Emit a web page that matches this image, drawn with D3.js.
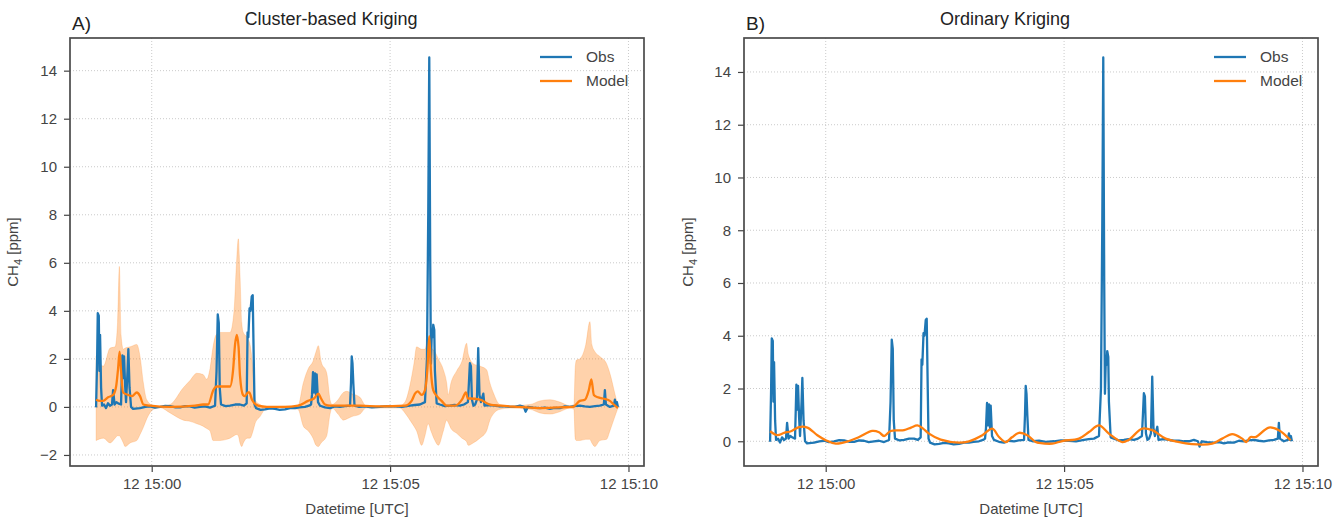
<!DOCTYPE html>
<html>
<head>
<meta charset="utf-8">
<script src="https://cdn.jsdelivr.net/npm/d3@7"></script>
<style>
    body { margin: 0; background: #fff; }
    svg text { font-family: "Liberation Sans", Arial, sans-serif; }
</style>
</head>
<body>
<div id="chart"></div>
<script>

// ---- data (seconds after 12 14:58:50 UTC, CH4 in ppm) ----

const obsSec = [0, 1.3, 2.1, 3.4, 4.2, 5.0, 6.3, 7.5, 10, 12.5, 15, 17.5, 20, 21.4, 23.3, 25.5, 27.7, 31.4, 33.1, 34.3, 35.2, 36.5, 37.7, 39.6, 40.6, 42.1, 44,
    46.5, 55.3, 62, 67.9, 74, 80.5, 87, 93.1, 100, 105.7, 112, 118.2, 124, 130.8, 137, 143.4, 149.7, 151.6, 153.1, 154.4, 155.6, 157.2, 163, 168.6, 175, 181.1, 186, 189.5,
    190.6, 191.6, 193.1, 194.3, 195.9, 197.1, 198.4, 199.4, 201.3, 207, 212.6, 219, 225.2, 231, 237.8, 244, 250.3, 256, 262.9, 268, 270.5, 271.7, 273, 274.2, 275.5, 276.8,
    277.6, 279.3, 281.8, 288, 294.4, 300, 307, 313, 319.6, 320.8, 321.7, 322.7, 323.7, 325.2, 331, 338.4, 347, 357.3, 366, 376.1, 385, 395, 401, 407.6, 413.9, 416.4,
    418, 419.3, 420.5, 421.4, 422.4, 423.3, 424.3, 425.6, 426.4, 428.6, 432.7, 439, 445.3, 451, 457.9, 463, 467.9, 469.2, 470.4, 471.7, 473, 474.9, 477, 479.3, 480.9,
    482.5, 484.3, 487.3, 488.8, 495, 502, 508, 514.5, 521, 527.1, 533.4, 538.4, 540.5, 543.4, 550, 558.5, 565, 571.1, 577, 583.7, 590, 596.2, 602, 608.8, 615, 621.4,
    628, 634, 639, 640.3, 641.6, 646.6, 651.6, 652.9, 654.2, 655.4, 656.7];
const obsVal = [-0.02, 2.0, 3.9, 3.8, 1.5, 3.0, 0.8, 0.05, 0.1, -0.05, 0.15, 0.05, 0.1, 0.7, 0.1, 0.2, 0.15, 0.1, 2.15, 1.2, 2.1, 0.9, 0.2, 1.5, 2.4, 0.8, 0.0,
    -0.08, -0.05, 0.0, 0.02, -0.03, 0.0, 0.04, 0.03, -0.02, -0.02, 0.03, 0.02, -0.03, 0.0, 0.02, -0.03, 0.05, 1.5, 3.85, 3.5, 0.8, 0.1, 0.03, 0.05, 0.1, 0.1, 0.05, 0.15,
    3.1, 2.9, 4.1, 4.0, 4.6, 4.65, 2.0, 0.1, -0.05, -0.12, -0.1, -0.06, -0.08, -0.12, -0.1, -0.05, -0.05, -0.02, 0.0, 0.05, 0.1, 0.5, 1.45, 0.6, 1.4, 0.5,
    1.35, 0.2, 0.05, -0.02, -0.05, 0.02, 0.0, 0.03, 0.05, 1.0, 2.1, 1.8, 1.0, 0.05, 0.0, 0.02, -0.02, 0.0, 0.03, 0.02, 0.0, 0.05, 0.08, 0.1, 0.2, 2.0,
    8.0, 14.55, 6.0, 1.8, 3.0, 2.9, 3.42, 3.2, 1.5, 0.15, 0.1, 0.03, 0.05, 0.08, 0.05, 0.1, 0.2, 1.0, 1.82, 1.7, 0.3, 0.05, 0.1, 0.3, 2.45,
    0.5, 0.2, 0.55, 0.05, 0.08, 0.05, 0.02, 0.02, 0.0, 0.0, 0.05, 0.0, -0.2, 0.0, -0.03, -0.05, -0.03, -0.08, -0.04, -0.05, 0.02, 0.0, 0.03, 0.05, 0.02, 0.0,
    0.03, 0.05, 0.1, 0.7, 0.1, 0.0, 0.05, 0.3, 0.05, 0.2, 0.0];

// cluster-based kriging model
const ckSec = [0, 5, 8.8, 15.1, 21.4, 25.2, 27.7, 29.6, 31.4, 34, 40.3, 45.3, 51.2, 55.3, 59.5, 67.9, 93.1, 124.5, 134.6, 140.9, 147.6, 151.9, 162.3, 168.6,
    172.3, 174.9, 177, 179.3, 181.1, 184.9, 187.4, 191.2, 192.8, 196.2, 203.8, 215.1, 237.8, 254.1, 266.7, 274.2, 279.7, 283.1, 288.1, 294.4, 313.3, 332.1,
    357.3, 388.7, 397.1, 401.3, 404.7, 409.7, 413.9, 417, 419.3, 421.4, 424.3, 428.9, 434.8, 441.1, 451.5, 460.4, 465.4, 467.9, 470.4, 483, 495.6, 508.2,
    533.4, 558.5, 583.7, 600, 608.8, 615.1, 620.1, 623.3, 626.4, 631.5, 637.7, 646.6, 651.6, 656.7];
const ckVal = [0.3, 0.25, 0.25, 0.4, 0.5, 0.85, 1.6, 2.3, 1.5, 0.6, 0.5, 0.45, 0.6, 0.45, 0.1, 0.05, 0.0, 0.05, 0.1, 0.1, 0.7, 0.85, 0.85, 0.85,
    1.5, 2.6, 3.0, 2.5, 1.3, 0.5, 0.45, 0.6, 0.6, 0.3, 0.05, 0.0, 0.0, 0.05, 0.25, 0.35, 0.55, 0.35, 0.1, 0.05, 0.05, 0.05,
    0.02, 0.05, 0.25, 0.55, 0.65, 0.5, 0.7, 1.6, 2.95, 1.5, 0.7, 0.45, 0.25, 0.05, 0.05, 0.3, 0.6, 0.35, 0.35, 0.3, 0.1, 0.05,
    0.0, -0.05, -0.02, 0.0, 0.25, 0.3, 0.7, 1.15, 0.5, 0.4, 0.35, 0.25, 0.1, -0.05];

// uncertainty band of the cluster-based model
const bandSec = [0, 9.2, 17.6, 23.9, 27, 29.3, 31.4, 34.3, 36.5, 42.8, 51.2, 55.3, 59.5, 63.7, 72.1, 80.5, 93.1, 109.8, 118.2, 126.7, 134.6, 139.3, 143.4,
    147.2, 151, 156, 164.4, 168.6, 173.6, 176.7, 179, 181.1, 183.3, 185.3, 190, 193.7, 197.5, 200, 206.3, 214.7, 231.4, 254.1, 260.8, 267.1, 273, 276.8, 279.7,
    283.1, 290.3, 294.4, 297, 304.5, 311.2, 315.5, 322, 332.1, 339.6, 357.3, 382.5, 388.7, 395, 400, 403.4, 409.7, 413.9, 418, 421.4, 426.4, 430.7, 437, 441.2,
    443.2, 446.6, 453.8, 460.4, 466.3, 468.3, 474.6, 483, 491.4, 495.6, 499.8, 508.2, 520.8, 546, 558.5, 571.1, 583.7, 596.2, 601.3, 603.1, 604.6, 608.8, 616.3,
    621.4, 623.9, 627.7, 634, 642.4, 646.6, 652.9, 656.7];
const bandHi = [2.1, 1.7, 2.45, 2.5, 3.5, 5.85, 3.0, 2.4, 2.45, 2.5, 2.6, 2.1, 1.0, 0.3, 0.05, 0.02, 0.1, 0.8, 1.1, 1.4, 1.35, 1.15, 1.6,
    2.5, 3.0, 3.1, 3.1, 3.1, 4.0, 6.0, 7.0, 5.5, 3.5, 3.1, 2.9, 2.6, 1.5, 0.3, 0.1, 0.0, 0.02, 0.05, 1.0, 1.6, 1.9, 2.3, 2.55,
    1.9, 1.4, 0.3, 0.1, 0.3, 0.6, 0.65, 0.55, 0.4, 0.05, 0.05, 0.05, 0.2, 0.9, 1.8, 2.5, 2.4, 2.4, 2.9, 2.5, 2.3, 2.0, 1.55, 1.0,
    0.5, 1.0, 1.5, 1.9, 2.65, 2.2, 1.8, 1.7, 1.55, 1.0, 0.6, 0.1, 0.05, 0.1, 0.25, 0.3, 0.2, 0.05, 0.1, 1.7, 1.95, 2.0, 2.6,
    3.55, 2.6, 2.3, 2.1, 1.8, 1.4, 0.55, 0.05];
const bandLo = [-1.4, -1.3, -1.5, -1.3, -1.2, -1.2, -1.3, -1.5, -1.65, -1.5, -1.4, -1.15, -0.85, -0.5, -0.1, -0.03, -0.25, -0.55, -0.6, -0.7, -0.8, -0.9, -1.0,
    -1.4, -1.4, -1.4, -1.35, -1.3, -1.2, -1.15, -1.2, -1.5, -1.65, -1.5, -1.3, -1.3, -1.0, -0.7, -0.4, -0.05, -0.05, -0.1, -0.8, -1.0, -1.3, -1.6, -1.65,
    -1.5, -1.2, -0.3, -0.05, -0.3, -0.55, -0.5, -0.4, -0.3, -0.05, -0.05, -0.05, -0.25, -0.55, -0.8, -1.0, -1.6, -1.2, -0.7, -1.0, -1.4, -1.6, -1.0, -0.55,
    -0.65, -0.9, -1.1, -1.3, -1.45, -1.6, -1.5, -1.3, -1.0, -0.55, -0.3, -0.1, -0.05, -0.1, -0.25, -0.3, -0.2, -0.05, -0.1, -1.35, -1.4, -1.4, -1.35,
    -1.35, -1.5, -1.65, -1.4, -1.35, -1.0, -0.4, -0.05];

// ordinary kriging model
const okSec = [0, 9.2, 17.6, 26.4, 36.5, 46.9, 59.5, 70.1, 82.6, 99.4, 112, 128.7, 137.1, 143.4, 151.8, 168.6, 177.4, 185.3, 192.5, 200, 214.7, 237.7,
    250.3, 267.1, 279.6, 288.1, 296.5, 304.4, 313.2, 323.7, 334.2, 338.4, 355.1, 367.7, 388.7, 401.3, 413.9, 426.4, 443.2, 451.6, 468.3, 480.9, 497.8,
    510.3, 531.2, 556.4, 569, 581.5, 594.1, 599.2, 604.7, 611, 627.7, 640.3, 655];
const okVal = [0.38, 0.23, 0.32, 0.38, 0.54, 0.52, 0.23, 0.04, -0.09, 0.01, 0.16, 0.39, 0.34, 0.2, 0.39, 0.42, 0.52, 0.6, 0.48, 0.29, 0.06, -0.05,
    0.0, 0.23, 0.48, 0.16, -0.03, 0.15, 0.32, 0.23, -0.03, -0.06, -0.09, 0.01, 0.1, 0.35, 0.6, 0.29, -0.03, 0.06, 0.48, 0.42, 0.1,
    0.0, -0.11, -0.09, 0.1, 0.27, 0.1, -0.03, 0.16, 0.16, 0.52, 0.42, 0.04];

const yTicksA = [-2, 0, 2, 4, 6, 8, 10, 12, 14];
const yTicksB = [0, 2, 4, 6, 8, 10, 12, 14];
const xTickLabels = ['15:00', '15:05', '15:10'];
const legendLabels = ['Obs', 'Model'];


// ---- drawing ----

const t0 = Date.UTC(2023, 0, 12, 14, 58, 50);
const toDate = s => new Date(t0 + s * 1000);
const colObs = '#1f77b4', colModel = '#ff7f0e';
const textCol = '#444';

const svg = d3.select('#chart').append('svg')
    .attr('width', 1335)
    .attr('height', 517);

function drawPanel(cfg) {
    let g = svg.append('g').attr('transform', `translate(${cfg.left}, ${cfg.top})`);
    let w = cfg.width, h = cfg.height;

    // x domain with 5% padding like matplotlib
    let xe = d3.extent(obsSec);
    let xp = (xe[1] - xe[0]) * 0.05;
    let x = d3.scaleUtc()
        .domain([toDate(xe[0] - xp), toDate(xe[1] + xp)])
        .range([0, w]);

    let ye = d3.extent(cfg.allVals);
    let yp = (ye[1] - ye[0]) * 0.05;
    let y = d3.scaleLinear()
        .domain([ye[0] - yp, ye[1] + yp])
        .range([h, 0]);

    let xTicks = xTickLabels.map(s => new Date(Date.UTC(2023, 0, 12, +s.slice(0, 2), +s.slice(3), 0)));

    // grid
    g.append('g').selectAll('line.gy').data(cfg.yTicks).enter().append('line')
        .attr('x1', 0).attr('x2', w)
        .attr('y1', d => y(d)).attr('y2', d => y(d))
        .attr('stroke', '#c4c4c4').attr('stroke-width', 0.9).attr('stroke-dasharray', '1,2');
    g.append('g').selectAll('line.gx').data(xTicks).enter().append('line')
        .attr('x1', d => x(d)).attr('x2', d => x(d))
        .attr('y1', 0).attr('y2', h)
        .attr('stroke', '#c4c4c4').attr('stroke-width', 0.9).attr('stroke-dasharray', '1,2');

    // band
    if (cfg.band) {
        let area = d3.area()
            .x((d, i) => x(toDate(bandSec[i])))
            .y0((d, i) => y(bandLo[i]))
            .y1((d, i) => y(bandHi[i]))
            .curve(d3.curveMonotoneX);
        g.append('path').datum(bandSec)
            .attr('d', area)
            .attr('fill', colModel)
            .attr('fill-opacity', 0.35)
            .attr('stroke', colModel)
            .attr('stroke-opacity', 0.2)
            .attr('stroke-width', 1);
    }

    // obs line
    let obsLine = d3.line()
        .x((d, i) => x(toDate(obsSec[i])))
        .y(d => y(d));
    g.append('path').datum(obsVal)
        .attr('d', obsLine)
        .attr('fill', 'none')
        .attr('stroke', colObs)
        .attr('stroke-width', 2.3)
        .attr('stroke-linejoin', 'round');

    // model line
    let modLine = d3.line()
        .x((d, i) => x(toDate(cfg.modSec[i])))
        .y(d => y(d))
        .curve(cfg.band ? d3.curveMonotoneX : d3.curveCatmullRom);
    g.append('path').datum(cfg.modVal)
        .attr('d', modLine)
        .attr('fill', 'none')
        .attr('stroke', colModel)
        .attr('stroke-width', 2.3)
        .attr('stroke-linejoin', 'round');

    // axes
    let yAxis = g.append('g').call(d3.axisLeft(y).tickValues(cfg.yTicks).tickSize(6).tickPadding(7));
    let xAxis = g.append('g').attr('transform', `translate(0, ${h})`)
        .call(d3.axisBottom(x).tickValues(xTicks).tickSize(6).tickPadding(6).tickFormat(d3.utcFormat('%d %H:%M')));
    [yAxis, xAxis].forEach(a => {
        a.select('.domain').remove();
        a.selectAll('line').attr('stroke', textCol).attr('stroke-width', 1.2);
        a.selectAll('text').attr('fill', textCol).style('font-size', '15px');
    });

    // frame
    g.append('rect')
        .attr('width', w).attr('height', h)
        .attr('fill', 'none')
        .attr('stroke', '#4a4a4a')
        .attr('stroke-width', 1.7);

    // titles
    g.append('text')
        .text(cfg.title)
        .attr('x', w / 2 - 26).attr('y', -13)
        .attr('text-anchor', 'middle')
        .attr('fill', '#222')
        .style('font-size', '18px');
    g.append('text')
        .text(cfg.letter)
        .attr('x', 2).attr('y', -8)
        .attr('fill', '#222')
        .style('font-size', '19px');

    // axis labels
    g.append('text')
        .text('Datetime [UTC]')
        .attr('x', w / 2).attr('y', h + 48)
        .attr('text-anchor', 'middle')
        .attr('fill', textCol)
        .style('font-size', '15px');
    let yl = g.append('text')
        .attr('transform', `translate(${cfg.ylabelX}, ${h / 2}) rotate(-90)`)
        .attr('text-anchor', 'middle')
        .attr('fill', textCol)
        .style('font-size', '15px');
    yl.append('tspan').text('CH');
    yl.append('tspan').text('4').attr('dy', 4).style('font-size', '11px');
    yl.append('tspan').text(' [ppm]').attr('dy', -4);

    // legend
    let leg = g.append('g').attr('transform', `translate(${w - 104}, 19)`);
    [colObs, colModel].forEach((c, i) => {
        leg.append('line')
            .attr('x1', 0).attr('x2', 32)
            .attr('y1', i * 24).attr('y2', i * 24)
            .attr('stroke', c).attr('stroke-width', 2.3);
        leg.append('text')
            .text(legendLabels[i])
            .attr('x', 46).attr('y', i * 24 + 5)
            .attr('fill', textCol)
            .style('font-size', '15.5px');
    });
}

drawPanel({
    left: 70, top: 38, width: 574, height: 428,
    title: 'Cluster-based Kriging', letter: 'A)',
    band: true,
    modSec: ckSec, modVal: ckVal,
    allVals: obsVal.concat(ckVal, bandLo, bandHi),
    yTicks: yTicksA,
    ylabelX: -52
});

drawPanel({
    left: 744, top: 38, width: 574, height: 428,
    title: 'Ordinary Kriging', letter: 'B)',
    band: false,
    modSec: okSec, modVal: okVal,
    allVals: obsVal.concat(okVal),
    yTicks: yTicksB,
    ylabelX: -51
});

</script>
</body>
</html>
